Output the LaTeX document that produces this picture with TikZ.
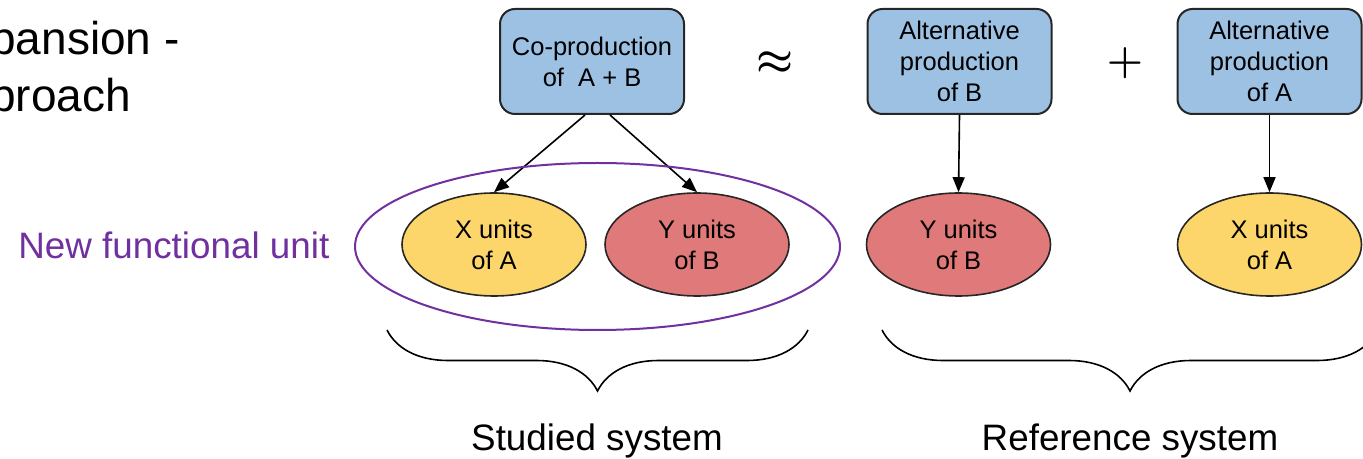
\documentclass[tikz,border=0pt]{standalone}
\usepackage{fontspec}
\setmainfont{Liberation Sans}
\usepackage{xcolor}
\usepackage{tikz}
\usetikzlibrary{arrows.meta,shapes.geometric,decorations.pathreplacing}
\definecolor{procblue}{HTML}{9DC1E3}
\definecolor{prodyellow}{HTML}{FCD56B}
\definecolor{prodred}{HTML}{E07979}
\definecolor{fupurple}{HTML}{7030A0}
\newcommand{\diagboxfont}{\fontsize{12.75pt}{15.5pt}\selectfont}
\newcommand{\diaglabelfont}{\fontsize{18.4pt}{22pt}\selectfont}
\newcommand{\diagtitlefont}{\fontsize{23pt}{28pt}\selectfont}

\begin{document}
\begin{tikzpicture}[x=0.5pt, y=-0.5pt, >={Triangle[length=7.5pt,width=6pt]},
  process/.style={draw=black!85, line width=1pt, fill=procblue, rounded corners=7.5pt,
    minimum width=92pt, minimum height=52.5pt, inner sep=2pt, align=center, font=\diagboxfont},
  product/.style={draw=black!85, line width=0.8pt, ellipse, minimum width=92pt,
    minimum height=51.5pt, inner sep=1pt, align=center, font=\diagboxfont},
  flow/.style={->, line width=0.8pt},
  sysbrace/.style={decorate, decoration={brace, mirror, amplitude=30.5pt}, line width=0.8pt},
  bigtext/.style={font=\diaglabelfont, inner sep=0pt},
  operator/.style={font=\fontsize{22pt}{26pt}\selectfont\boldmath}]

\clip (0,0) rectangle (1363,459);

% ---- Title (cut at the left edge) ----
\node[anchor=base west, font=\diagtitlefont, inner sep=0pt] (title1) at (-10,55) {pansion -};
\node[anchor=base west, font=\diagtitlefont, inner sep=0pt] (title2) at (-10,112) {proach};

% ---- Studied system ----
\node[process] (coprod) at (592,61.5) {Co-production\\of\ \ A + B};
\node[product, fill=prodyellow] (xA) at (494,244.5) {X units\\of A};
\node[product, fill=prodred]    (yB) at (697,244.5) {Y units\\of B};

\draw[flow] ([xshift=-3.5pt]coprod.south) -- (xA.north);
\draw[flow] ([xshift=9pt]coprod.south) -- (yB.north);

% New functional unit
\node[draw=fupurple, line width=1pt, ellipse, minimum width=242.5pt, minimum height=83.5pt]
  (funit) at (597.5,246.5) {};
\node[bigtext, anchor=base west, text=fupurple] (funitlabel) at (18,259) {New functional unit};

% ---- Reference system ----
\node[operator] (approx) at (775,63) {$\approx$};
\node[operator] (plus) at (1125,63) {$+$};

\node[process] (altB) at (959.5,61.5) {Alternative\\production\\of B};
\node[process] (altA) at (1269.5,61.5) {Alternative\\production\\of A};
\node[product, fill=prodred]    (refyB) at (958.5,244.5) {Y units\\of B};
\node[product, fill=prodyellow] (refxA) at (1269.5,244.5) {X units\\of A};

\draw[flow] (altB.south) -- (refyB.north);
\draw[flow] (altA.south) -- (refxA.north);

% ---- Braces and system names ----
\draw[sysbrace] (387,330) -- (808,330);
\draw[sysbrace] (882,330) -- (1378,330);
\node[bigtext, anchor=base] (studied) at (597,450) {Studied system};
\node[bigtext, anchor=base] (reference) at (1130,450) {Reference system};

\end{tikzpicture}
\end{document}
